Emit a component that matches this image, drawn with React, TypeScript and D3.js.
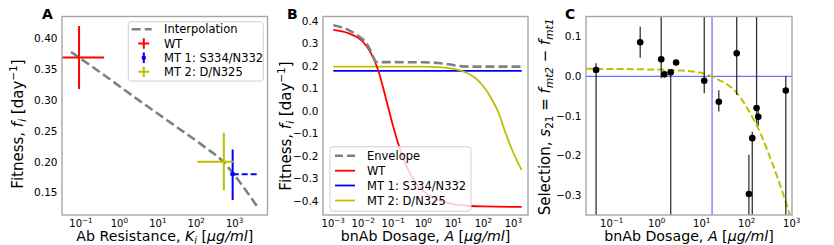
import React from 'react';
import * as d3 from 'd3';

// ---- Panel A: fitness vs antibody resistance ----
const mutantNames = ['WT', 'MT 1: S334/N332', 'MT 2: D/N325'];
const resistK = [0.089, 890, 525];
const resistKLo = [0.032, 890, 107];
const resistKHi = [0.4, 4170, 930];
const fitA = [0.369, 0.18, 0.2];
const fitALo = [0.318, 0.138, 0.154];
const fitAHi = [0.42, 0.22, 0.247];
const interpK = [0.055, 0.316, 3.16, 31.6, 158, 525, 1000, 1995, 4074];
const interpF = [0.378, 0.345, 0.3, 0.256, 0.225, 0.199, 0.178, 0.153, 0.126];
const ticksA = [0.15, 0.2, 0.25, 0.3, 0.35, 0.4];

// ---- Panel B: fitness vs dosage ----
const envDose = [0.001, 0.00316, 0.00631, 0.0126, 0.0178, 0.0224, 0.0263, 0.0316, 1, 3.16, 7.94, 15.8, 31.6, 1905];
const envFit = [0.38, 0.36, 0.336, 0.3, 0.265, 0.235, 0.219, 0.217, 0.216, 0.213, 0.206, 0.199, 0.197, 0.197];
const wtDose = [0.001, 0.00316, 0.01, 0.0178, 0.0316, 0.0562, 0.1, 0.178, 0.316, 0.562, 1, 3.16, 10, 31.6, 100, 1905];
const wtFit = [0.36, 0.345, 0.305, 0.258, 0.18, 0.058, -0.07, -0.18, -0.262, -0.318, -0.355, -0.395, -0.413, -0.42, -0.423, -0.425];
const mt1Dose = [0.001, 1905];
const mt1Fit = [0.178, 0.178];
const mt2Dose = [0.001, 1, 3.16, 10, 25.1, 50.1, 100, 178, 316, 562, 1000, 1905];
const mt2Fit = [0.197, 0.197, 0.195, 0.187, 0.172, 0.15, 0.11, 0.06, -0.005, -0.1, -0.185, -0.262];
const ticksB = [-0.4, -0.3, -0.2, -0.1, 0, 0.1, 0.2, 0.3, 0.4];
const legendB = ['Envelope', 'WT', 'MT 1: S334/N332', 'MT 2: D/N325'];

// ---- Panel C: selection s21 vs dosage ----
const selDose = [0.045, 0.43, 1.26, 1.48, 2.05, 2.7, 11.4, 24, 60, 166, 181, 133, 112, 740];
const selVal = [0.016, 0.086, 0.043, 0.005, 0.01, 0.035, -0.011, -0.064, 0.058, -0.08, -0.102, -0.156, -0.297, -0.036];
const selLo = [-0.5, 0.047, -0.005, 0.0, -0.5, 0.032, -0.043, -0.089, -0.047, -0.12, -0.125, -0.5, -0.5, -0.5];
const selHi = [0.033, 0.125, 0.3, 0.01, 0.012, 0.038, 0.3, -0.035, 0.3, 0.3, -0.08, -0.14, -0.198, 0.0];
const selFitDose = [0.0269, 0.316, 1, 3.16, 6.31, 11.2, 16.6, 25.1, 36.3, 56.2, 85.1, 141, 214, 331, 501, 708, 912];
const selFitVal = [0.019, 0.018, 0.017, 0.015, 0.012, 0.007, 0.0, -0.01, -0.02, -0.038, -0.065, -0.108, -0.15, -0.205, -0.26, -0.311, -0.35];
const crossDose = 17;
const ticksC = [-0.3, -0.2, -0.1, 0, 0.1];

const RED = '#ff0000';
const BLUE = '#0000ff';
const YEL = '#bfbf00';
const GRAY = '#808080';
const FONT = 'DejaVu Sans';
const TOP = 16.5;
const BOT = 215;

type Part = [string, string?];

const MText: React.FC<{ parts: Part[]; [k: string]: any }> = ({ parts, ...rest }) => (
  <text fontFamily={FONT} {...rest}>
    {parts.map(([t, s], i) => {
      if (s === 'i') return <tspan key={i} fontStyle="italic">{t}</tspan>;
      if (s === 'sub') return <tspan key={i} fontSize="70%" baselineShift={-3}>{t}</tspan>;
      if (s === 'isub') return <tspan key={i} fontSize="70%" fontStyle="italic" baselineShift={-3}>{t}</tspan>;
      if (s === 'sup') return <tspan key={i} fontSize="70%" baselineShift={6}>{t}</tspan>;
      return <tspan key={i}>{t}</tspan>;
    })}
  </text>
);

const fmtMinus = (v: number, f: string) => d3.format(f)(v).replace('-', '−');

const Frame: React.FC<{ x0: number; x1: number }> = ({ x0, x1 }) => (
  <rect x={x0} y={TOP} width={x1 - x0} height={BOT - TOP} fill="none" stroke="#a6a6a6" strokeWidth={1.4} />
);

const XLogTicks: React.FC<{ sx: any; exps: number[] }> = ({ sx, exps }) => (
  <g>
    {exps.map(e => (
      <text key={e} x={sx(Math.pow(10, e))} y={226.8} textAnchor="middle" fontFamily={FONT} fontSize={10}>
        10<tspan fontSize={7.2} baselineShift={4.3}>{e < 0 ? '−' + -e : String(e)}</tspan>
      </text>
    ))}
  </g>
);

const YTicks: React.FC<{ sy: any; x: number; vals: number[]; f: string }> = ({ sy, x, vals, f }) => (
  <g>
    {vals.map(v => (
      <text key={v} x={x - 4.5} y={sy(v)} dy="0.36em" textAnchor="end" fontFamily={FONT} fontSize={10.5}>
        {fmtMinus(v, f)}
      </text>
    ))}
  </g>
);

const dosageLabel: Part[] = [['bnAb Dosage, '], ['A', 'i'], [' ['], ['μg/ml', 'i'], [']']];
const fitnessLabel: Part[] = [['Fitness, '], ['f', 'i'], ['i', 'isub'], [' [day'], ['−1', 'sup'], [']']];

export default function App() {
  // Panel A scales
  const ax0 = 62, ax1 = 267.5;
  const sxA = d3.scaleLog().domain([Math.pow(10, -1.495), Math.pow(10, 3.857)]).range([ax0, ax1]);
  const syA = d3.scaleLinear().domain([0.1138, 0.4354]).range([BOT, TOP]);
  const interpLine = d3.line<number>().x((_, i) => sxA(interpK[i])).y(d => syA(d)).curve(d3.curveMonotoneX);

  // Panel B scales
  const bx0 = 323, bx1 = 528;
  const sxB = d3.scaleLog().domain([Math.pow(10, -3.343), Math.pow(10, 3.49)]).range([bx0, bx1]);
  const syB = d3.scaleLinear().domain([-0.461, 0.419]).range([BOT, TOP]);
  const lineB = (xs: number[]) =>
    d3.line<number>().x((_, i) => sxB(xs[i])).y(d => syB(d)).curve(d3.curveMonotoneX);

  // Panel C scales
  const cx0 = 586, cx1 = 792;
  const sxC = d3.scaleLog().domain([Math.pow(10, -1.571), Math.pow(10, 3.007)]).range([cx0, cx1]);
  const syC = d3.scaleLinear().domain([-0.35, 0.151]).range([BOT, TOP]);
  const fitLineC = d3.line<number>().x((_, i) => sxC(selFitDose[i])).y(d => syC(d)).curve(d3.curveMonotoneX);

  const colorsA = [RED, BLUE, YEL];
  const legAy = [29.3, 43.5, 57.7, 71.8];
  const legBy = [155.7, 170.7, 185.5, 200.5];
  const colorsB = [GRAY, RED, BLUE, YEL];

  return (
    <svg width={834} height={245} style={{ position: 'absolute', left: 0, top: 0, background: '#fff' }}>
      <defs>
        <clipPath id="clipA"><rect x={ax0} y={TOP} width={ax1 - ax0} height={BOT - TOP} /></clipPath>
        <clipPath id="clipB"><rect x={bx0} y={TOP} width={bx1 - bx0} height={BOT - TOP} /></clipPath>
        <clipPath id="clipC"><rect x={cx0} y={TOP} width={cx1 - cx0} height={BOT - TOP} /></clipPath>
      </defs>

      {/* ===== Panel A ===== */}
      <g clipPath="url(#clipA)">
        <path d={interpLine(interpF) || ''} fill="none" stroke={GRAY} strokeWidth={2.6} strokeDasharray="9,4" />
        {mutantNames.map((n, i) => (
          <g key={n} stroke={colorsA[i]} strokeWidth={2}>
            <line x1={sxA(resistK[i])} x2={sxA(resistK[i])} y1={syA(fitALo[i])} y2={syA(fitAHi[i])} />
            {i === 1 ? (
              <line x1={sxA(resistKLo[i])} x2={sxA(resistKHi[i])} y1={syA(fitA[i])} y2={syA(fitA[i])} strokeDasharray="6,3" />
            ) : (
              <line x1={sxA(resistKLo[i])} x2={sxA(resistKHi[i])} y1={syA(fitA[i])} y2={syA(fitA[i])} />
            )}
            {i === 1 && <circle cx={sxA(resistK[i])} cy={syA(fitA[i])} r={2.4} fill={BLUE} stroke="none" />}
          </g>
        ))}
      </g>
      <Frame x0={ax0} x1={ax1} />
      <YTicks sy={syA} x={ax0} vals={ticksA} f=".2f" />
      <XLogTicks sx={sxA} exps={[-1, 0, 1, 2, 3]} />
      <g>
        <rect x={128.3} y={21.7} width={135} height={59.3} rx={3} fill="#fff" fillOpacity={0.8} stroke="#d0d0d0" />
        <line x1={131.7} x2={151.7} y1={legAy[0]} y2={legAy[0]} stroke={GRAY} strokeWidth={2.6} strokeDasharray="9,4" />
        <text x={164} y={legAy[0]} dy="0.36em" fontFamily={FONT} fontSize={11.5}>Interpolation</text>
        {mutantNames.map((n, i) => {
          const y = legAy[i + 1];
          return (
            <g key={n}>
              <g stroke={colorsA[i]} strokeWidth={2}>
                <line x1={143.8} x2={143.8} y1={y - 5.3} y2={y + 5.3} />
                {i !== 1 && <line x1={138.3} x2={149.3} y1={y} y2={y} />}
              </g>
              {i === 1 && <circle cx={143.8} cy={y} r={2.2} fill={BLUE} />}
              <text x={164} y={y} dy="0.36em" fontFamily={FONT} fontSize={11.5}>{n}</text>
            </g>
          );
        })}
      </g>
      <MText parts={[['Ab Resistance, '], ['K', 'i'], ['i', 'isub'], [' ['], ['μg/ml', 'i'], [']']]}
        x={(ax0 + ax1) / 2} y={241} textAnchor="middle" fontSize={14.2} />
      <MText parts={fitnessLabel} x={0} y={0} textAnchor="middle" fontSize={15} transform="translate(23,124) rotate(-90)" />
      <text x={42} y={18.5} fontFamily={FONT} fontWeight="bold" fontSize={14}>A</text>

      {/* ===== Panel B ===== */}
      <g clipPath="url(#clipB)" fill="none">
        <path d={lineB(mt1Dose)(mt1Fit) || ''} stroke={BLUE} strokeWidth={1.8} />
        <path d={lineB(mt2Dose)(mt2Fit) || ''} stroke={YEL} strokeWidth={1.8} />
        <path d={lineB(wtDose)(wtFit) || ''} stroke={RED} strokeWidth={1.8} />
        <path d={lineB(envDose)(envFit) || ''} stroke={GRAY} strokeWidth={2.6} strokeDasharray="9,4" />
      </g>
      <Frame x0={bx0} x1={bx1} />
      <YTicks sy={syB} x={bx0} vals={ticksB} f=".1f" />
      <XLogTicks sx={sxB} exps={[-3, -2, -1, 0, 1, 2, 3]} />
      <g>
        <rect x={330} y={146.7} width={141} height={64.5} rx={3} fill="#fff" fillOpacity={0.8} stroke="#d0d0d0" />
        {legendB.map((n, i) => (
          <g key={n}>
            <line x1={335} x2={355} y1={legBy[i]} y2={legBy[i]} stroke={colorsB[i]}
              strokeWidth={i === 0 ? 2.6 : 1.8} strokeDasharray={i === 0 ? '8,4' : undefined} />
            <text x={367} y={legBy[i]} dy="0.36em" fontFamily={FONT} fontSize={11.5}>{n}</text>
          </g>
        ))}
      </g>
      <MText parts={dosageLabel} x={(bx0 + bx1) / 2} y={241} textAnchor="middle" fontSize={14.2} />
      <MText parts={fitnessLabel} x={0} y={0} textAnchor="middle" fontSize={15} transform="translate(291,126) rotate(-90)" />
      <text x={287} y={18.5} fontFamily={FONT} fontWeight="bold" fontSize={14}>B</text>

      {/* ===== Panel C ===== */}
      <g clipPath="url(#clipC)">
        <line x1={cx0} x2={cx1} y1={syC(0)} y2={syC(0)} stroke="#4d4dff" strokeWidth={1} />
        <line x1={sxC(crossDose)} x2={sxC(crossDose)} y1={TOP} y2={BOT} stroke="#4d4dff" strokeWidth={1} />
        <path d={fitLineC(selFitVal) || ''} fill="none" stroke={YEL} strokeWidth={2} strokeDasharray="7,3.2" />
        {selDose.map((a, i) => (
          <g key={i}>
            <line x1={sxC(a)} x2={sxC(a)} y1={syC(selLo[i])} y2={syC(selHi[i])} stroke="#111" strokeWidth={1.3} strokeOpacity={0.85} />
            <circle cx={sxC(a)} cy={syC(selVal[i])} r={3.3} fill="#000" />
          </g>
        ))}
      </g>
      <Frame x0={cx0} x1={cx1} />
      <YTicks sy={syC} x={cx0} vals={ticksC} f=".1f" />
      <XLogTicks sx={sxC} exps={[-1, 0, 1, 2, 3]} />
      <MText parts={dosageLabel} x={(cx0 + cx1) / 2} y={241} textAnchor="middle" fontSize={14.2} />
      <MText parts={[['Selection, '], ['s', 'i'], ['21', 'sub'], [' = '], ['f', 'i'], ['mt2', 'isub'], [' − '], ['f', 'i'], ['mt1', 'isub']]}
        x={0} y={0} textAnchor="middle" fontSize={15} transform="translate(550,117) rotate(-90)" />
      <text x={565} y={18.5} fontFamily={FONT} fontWeight="bold" fontSize={14}>C</text>
    </svg>
  );
}
